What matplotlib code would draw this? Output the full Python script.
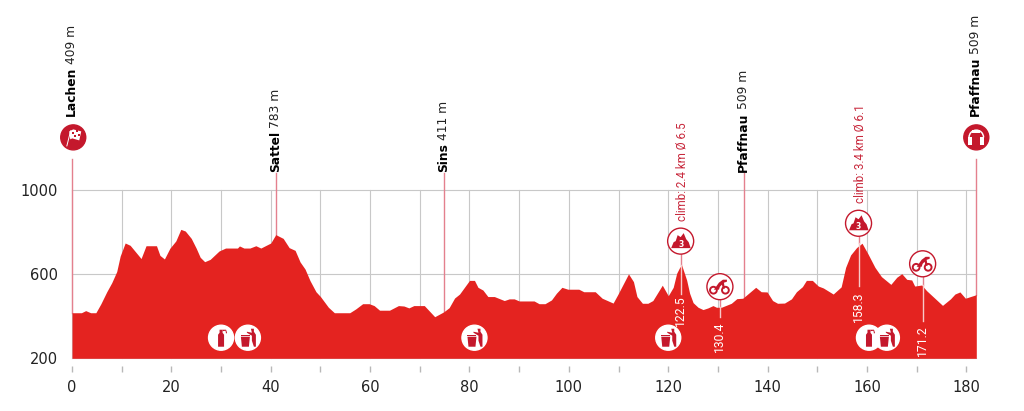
#!/usr/bin/env python3
import matplotlib
matplotlib.use('Agg')
import matplotlib.pyplot as plt
from matplotlib.patches import Circle, Polygon, Rectangle, Wedge
from matplotlib.transforms import Affine2D

# profile
km = [0, 1.9, 2.75, 3.75, 4.8, 5.8, 7, 8, 9, 9.7, 10.7, 11.7, 13.9, 14.9, 17, 17.7, 18.6, 19.7, 20.9, 21.9,
      22.8, 24, 25, 25.8, 26.7, 27.8, 29.6, 30.9, 33.3, 33.7, 34.6, 35.8, 37, 38, 40, 41, 42.5, 43.7, 44.9,
      45.9, 46.9, 47.9, 49.1, 50, 51.6, 52.8, 53.9, 55.9, 57.1, 58.5, 59.8, 60.8, 61.9, 63.9, 65.7, 66.8,
      67.8, 68.8, 70.9, 73, 74.8, 75.9, 77, 78, 80, 81, 81.7, 82.7, 83.7, 85, 87, 88, 89, 90, 93, 94, 95.2,
      96.5, 97.5, 98.6, 99.8, 102, 103, 105.3, 106.7, 108.9, 109.9, 112, 113, 113.7, 114.8, 115.9, 116.9,
      118.8, 120, 121, 121.7, 122.3, 122.7, 123.7, 124.3, 125, 126, 127, 128, 129, 129.7, 130.7, 132.7,
      133.8, 135, 137.6, 138.7, 139.9, 141, 142, 143.4, 144.8, 145.8, 147, 147.8, 149, 150.2, 151.2, 153.2,
      154.8, 155.7, 156.7, 157.9, 159, 160.2, 161.6, 162.9, 164.8, 166, 167, 168, 169, 169.6, 171, 172,
      175.2, 176.8, 177.7, 178.7, 179.8, 182]
elev = [417, 417, 427, 417, 417, 459, 517, 560, 613, 687, 749, 738, 675, 736, 736, 690, 673, 724, 759, 814,
        806, 771, 724, 681, 660, 671, 711, 725, 725, 735, 725, 725, 736, 725, 749, 789, 771, 727, 714,
        659, 625, 570, 517, 494, 443, 417, 417, 417, 435, 460, 460, 451, 429, 429, 451, 449,
        440, 451, 451, 398, 421, 441, 487, 506, 571, 571, 538, 525, 494, 494, 475, 483, 483, 473, 473, 460, 460,
        478, 510, 538, 529, 529, 517, 517, 486, 463, 506, 602, 565, 494, 462, 462, 475,
        548, 498, 538, 605, 633, 644, 573, 510, 465, 443, 432, 440, 451, 443, 443, 462,
        484, 486, 538, 517, 516, 475, 462, 463, 483, 517, 541, 571, 571, 544, 535, 506,
        540, 633, 692, 727, 748, 697, 633, 589, 552, 586, 603, 576, 573, 544, 549, 522,
        452, 483, 506, 516, 486, 503]

towns = ['Lachen', 'Sattel', 'Sins', 'Pfaffnau', 'Pfaffnau']
town_km = [0, 41.1, 74.8, 135.3, 182]
town_alt = ['409 m', '783 m', '411 m', '509 m', '509 m']
town_base = [417, 789, 421, 486, 503]
town_top = [1147, 1081, 1081, 1081, 1147]
town_label_y = [1352, 1086, 1086, 1086, 1352]

climb_km = [122.5, 158.3]
climb_text = ['climb: 2.4 km Ø 6.5', 'climb: 3.4 km Ø 6.1']
climb_icon_y = [758, 843]
climb_label_y = [854, 938]

mark_km = [122.5, 130.4, 158.3, 171.2]
mark_text = ['122.5', '130.4', '158.3', '171.2']
mark_base = [644, 443, 748, 549]
mark_line_bottom = [505, 396, 544, 377]
mark_line_top = [696, 479, 780, 588]
mark_label_y = [501, 377, 516, 359]

sprint_km = [130.4, 171.2]
sprint_y = [541, 650]
feed_km = [30.0, 160.4]
trash_km = [35.4, 81, 120, 164]
service_y = 298

km_ticks = list(range(0, 181, 10))
km_labels = [str(v) if v % 20 == 0 else '' for v in km_ticks]

RED = '#e42320'
DARK = '#c4182c'
PINK = '#e4808e'
GRID = '#c8c8c8'
TXT = '#222222'


fig = plt.figure(figsize=(10.24, 4.11), dpi=100)
ax = fig.add_axes([72 / 1024, (411 - 358.3) / 411, (976.3 - 72) / 1024, (358.3 - 190.3) / 411])
ax.set_xlim(0, 182)
ax.set_ylim(200, 1000)

for s in ['top', 'left', 'right', 'bottom']:
    ax.spines[s].set_visible(False)

ax.set_xticks(km_ticks)
ax.set_xticklabels(km_labels)
ax.set_yticks([200, 600, 1000])
ax.tick_params(axis='x', length=0, labelsize=10.5, labelcolor=TXT, pad=15.5)
ax.tick_params(axis='y', length=0, labelsize=10.5, labelcolor=TXT, pad=10)
ax.grid(True, color=GRID, lw=0.8)
ax.set_axisbelow(True)
for gl in ax.get_xgridlines() + ax.get_ygridlines():
    gl.set_clip_on(False)

# the short ticks float below the baseline
ax.vlines(km_ticks, -0.082, -0.046, transform=ax.get_xaxis_transform(), color='#b8b8b8', lw=1, clip_on=False, zorder=5)

ax.fill_between(km, elev, 200, color=RED, lw=0, zorder=3)

# town lines and labels
for i in range(len(towns)):
    ax.plot([town_km[i]] * 2, [town_base[i], town_top[i]], color=PINK, lw=1, clip_on=False, zorder=2)
    t = ax.text(town_km[i] - 0.1, town_label_y[i], towns[i], rotation=90, ha='center', va='bottom',
                fontsize=8.8, fontweight='bold', color='black', clip_on=False, zorder=6)
    ax.annotate(town_alt[i], xy=(0.5, 1), xycoords=t, xytext=(0, 2.5), textcoords='offset points',
                rotation=90, ha='center', va='bottom', fontsize=8.8, color=TXT, annotation_clip=False)

# km marks, pale inside the profile and pink above it
for i in range(len(mark_km)):
    ax.plot([mark_km[i]] * 2, [mark_base[i], mark_line_top[i]], color=PINK, lw=1, zorder=2)
    ax.plot([mark_km[i]] * 2, [mark_line_bottom[i], mark_base[i]], color='#f8c8c8', lw=1, zorder=4)
    ax.text(mark_km[i], mark_label_y[i], mark_text[i], rotation=90, ha='center', va='top',
            fontsize=8.7, family='Roboto', color='white', zorder=6)

for i in range(len(climb_km)):
    ax.text(climb_km[i] + 0.35, climb_label_y[i], climb_text[i], rotation=90, ha='center', va='bottom',
            fontsize=8.4, family='Roboto', color='#c8283c', clip_on=False, zorder=6)


def px(x, y):
    # glyphs are drawn in pixels around an icon centre
    return Affine2D().translate(*ax.transData.transform((x, y)))


def badge(x, y, edge=DARK, face='white', r=12.5):
    ax.add_patch(Circle((0, 0), r, transform=px(x, y), fc=face, ec=edge, lw=1, zorder=7, clip_on=False))


def glyph(pts, x, y, color=DARK):
    ax.add_patch(Polygon(pts, closed=True, transform=px(x, y), fc=color, ec='none', zorder=8, clip_on=False))


def flag(x, y):
    badge(x, y, face=DARK)
    glyph([(-7, -9), (-6, -9), (-2, 7), (-3, 7)], x, y, 'white')
    glyph([(-4, 6), (0, 8), (8, 6), (6, -3), (-1, -1), (-3, -2)], x, y, 'white')
    for a, b in [(-1, 3), (3, 5), (1, 0), (5, 1)]:
        ax.add_patch(Rectangle((a, b), 2, 2, transform=px(x, y), fc=DARK, ec='none', zorder=9, clip_on=False))


def finish(x, y):
    badge(x, y, face=DARK)
    ax.add_patch(Wedge((0, 0), 8, 0, 180, width=1.5, transform=px(x, y), fc='white', ec='none', zorder=8, clip_on=False))
    glyph([(-8, 0), (-4, 0), (-4, -8), (-8, -8)], x, y, 'white')
    glyph([(8, 0), (4, 0), (4, -8), (8, -8)], x, y, 'white')
    glyph([(-4, 7), (4, 7), (4, 4), (-4, 4)], x, y, 'white')


def mountain(x, y):
    badge(x, y, r=13)
    glyph([(-9.5, -7), (-7, -1), (-5, 0), (-3, 6), (0, 4), (3, 8), (5.5, 2), (8, -1), (10, -7)], x, y)
    ax.text(0, -3, '3', transform=px(x, y), fontsize=5.5, fontweight='bold', color='white',
            ha='center', va='center', zorder=9, clip_on=False)


def sprint(x, y):
    badge(x, y, r=13)
    for cx in [-6.5, 5.5]:
        ax.add_patch(Circle((cx, -3.5), 3.4, transform=px(x, y), fc='none', ec=DARK, lw=1.4, zorder=8, clip_on=False))
    glyph([(-6, -3), (-1, 4), (3, 7), (7, 7), (7, 5), (4, 4), (5, -2), (3, -2), (2, 2), (0, 0), (-1, -3)], x, y)


def bottle(x, y):
    badge(x, y, edge='white', r=12.5)
    glyph([(-3, -9), (3, -9), (3, 3), (1.5, 5), (1.5, 8), (-1.5, 8), (-1.5, 5), (-3, 3)], x, y)
    glyph([(1.5, 8), (5, 8), (6, 5), (5, 4), (4.5, 7), (1.5, 6.5)], x, y)


def trash(x, y):
    badge(x, y, edge='white', r=12.5)
    glyph([(-7, 1), (2, 1), (1, -9), (-6, -9)], x, y)
    glyph([(-7, 3), (2, 3), (2, 2), (-7, 2)], x, y)
    glyph([(3, 9), (6, 9), (6, 6), (8, 3), (8, -9), (6, -9), (4, -3), (4, 2), (-1, 5), (-1, 6), (4, 5)], x, y)


flag(0.25, 1252)
finish(182, 1252)
for i in range(len(climb_km)):
    mountain(climb_km[i], climb_icon_y[i])
for i in range(len(sprint_km)):
    sprint(sprint_km[i], sprint_y[i])
for v in feed_km:
    bottle(v, service_y)
for v in trash_km:
    trash(v, service_y)

fig.savefig('out.png', dpi=100)
